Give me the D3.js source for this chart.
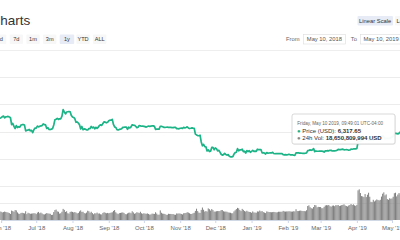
<!DOCTYPE html>
<html><head><meta charset="utf-8">
<script src="https://cdn.jsdelivr.net/npm/d3@7"></script>
<style>html,body{margin:0;padding:0;background:#fff;overflow:hidden}svg{display:block}</style>
</head><body>
<svg id="c" width="400" height="240"></svg>
<script>
// ---------- data ----------
const startDate = Date.UTC(2018, 4, 25); // May 25 2018, one value per day
const prices = [
7480,7355,7368,7135,7472,7406,7494,
7541,7643,7720,7514,7633,7653,7678,7624,7531,6786,6906,6582,6349,6675,6456,6550,6500,6734,6769,6776,6729,6083,6162,6173,6249,6093,6157,5903,6218,6404,
6385,6614,6530,6597,6639,6673,6857,6773,6742,6359,6442,6246,6238,6276,6359,6742,7321,7370,7467,7354,7419,7419,7718,8424,8181,7951,8165,8193,8218,8180,7780,
7625,7567,7434,7033,7068,6951,6754,6306,6571,6215,6308,6276,6204,6186,6348,6334,6580,6423,6509,6309,6486,6377,6487,6690,6748,6690,6898,7093,7047,6978,7037,
7193,7273,7260,7361,6792,6529,6467,6225,6186,6249,6276,6329,6488,6486,6518,6502,6269,6491,6412,6519,6763,6721,6710,6595,6446,6495,6676,6644,6601,6625,
6589,6556,6503,6576,6622,6588,6603,6652,6642,6585,6256,6274,6285,6290,6596,6596,6544,6476,6465,6489,6501,6481,6487,6475,6456,6446,6480,6474,6337,6331,6318,
6377,6388,6361,6484,6417,6467,6530,6415,6346,6379,6421,6394,6376,5738,5648,5575,5554,5624,4871,4452,4602,4365,4347,3880,4010,3822,3864,4274,4275,4017,
4214,4139,3894,3956,3753,3521,3419,3476,3614,3503,3424,3486,3313,3243,3236,3252,3545,3696,3745,4134,3896,4014,3998,4078,3815,3857,3654,3923,3821,3913,3742,
3843,3943,3836,3857,3845,4076,4025,4030,4035,3678,3687,3661,3552,3706,3630,3655,3678,3657,3729,3601,3576,3604,3585,3600,3600,3602,3583,3470,3448,3486,3457,
3487,3521,3464,3459,3466,3413,3399,3666,3671,3690,3648,3653,3632,3616,3620,3630,3673,3915,3947,3999,3954,4005,4142,3810,3882,3854,3851,3855,
3859,3864,3847,3762,3896,3903,3912,3901,3963,3948,3883,3907,3896,3904,3960,4049,4026,4033,4059,4083,4009,4017,4025,4018,3963,3985,4088,4070,4103,4107,4105,
4158,4879,4973,4922,5036,5059,5198,5289,5204,5325,5064,5089,5096,5167,5067,5236,5251,5298,5303,5337,5314,5399,5572,5464,5210,5279,5268,5285,5248,5350,
5402,5505,5768,5831,5795,5747,5830,5951,6174,6317
];
const volumesB = [
5.0,4.8,3.9,5.1,6.0,5.3,5.1,
4.9,4.5,4.7,5.0,4.8,4.6,4.4,4.1,3.6,5.6,5.3,4.9,5.9,5.7,4.5,3.8,3.6,4.2,4.3,4.1,3.9,5.2,3.5,4.3,4.0,3.7,3.8,3.9,4.0,4.0,
3.5,4.4,4.8,4.0,4.4,3.9,3.4,3.3,3.7,4.1,3.9,3.8,3.7,3.0,3.1,4.7,5.9,6.2,5.1,4.9,3.8,4.0,4.9,6.6,6.0,4.8,5.2,4.0,3.8,4.8,5.0,
4.8,4.5,4.7,4.4,3.9,4.2,5.1,5.7,4.8,4.9,4.1,3.9,4.4,5.5,5.2,4.3,4.9,4.1,3.4,4.0,3.9,4.4,3.8,3.9,3.4,3.3,4.2,4.6,4.3,4.0,4.2,
4.0,4.2,4.4,4.6,5.4,5.9,4.6,3.9,3.5,4.1,4.2,4.4,4.5,4.2,3.5,3.4,3.9,4.3,4.4,4.0,5.2,4.5,3.7,4.0,4.6,4.4,4.1,4.9,4.0,3.7,
4.0,3.8,3.7,3.9,3.6,3.2,3.3,3.8,3.7,3.6,4.6,3.8,3.1,3.2,5.7,4.3,3.8,3.7,3.6,3.1,3.1,3.7,3.6,3.6,3.5,3.5,3.2,3.1,3.9,3.8,3.9,
3.8,3.6,3.3,4.0,4.1,4.2,4.6,4.4,4.0,3.6,3.6,4.0,4.3,5.4,6.7,5.3,4.4,4.2,6.0,7.4,6.1,5.0,5.3,5.0,6.9,6.4,5.6,6.5,5.9,5.0,
5.0,5.2,5.3,5.3,5.3,5.9,5.9,5.2,5.0,5.0,4.9,4.5,4.4,4.3,4.0,4.0,5.1,5.8,6.5,7.2,6.9,5.9,5.3,6.6,6.0,5.3,5.0,5.5,5.0,4.8,4.7,
4.3,5.1,4.5,4.4,4.3,5.1,5.0,5.6,5.1,5.3,4.7,4.4,4.1,5.1,4.9,4.7,4.7,4.6,4.7,4.8,4.7,4.5,4.6,4.9,4.9,4.9,4.9,5.4,5.1,5.0,5.1,
5.1,5.2,5.1,5.0,5.0,5.2,5.1,6.4,5.3,5.3,5.5,5.6,5.4,5.3,5.3,5.2,5.8,8.3,8.7,7.6,7.0,6.8,7.7,8.9,8.7,7.5,7.8,7.7,
7.7,7.0,7.0,7.8,8.6,8.8,8.7,8.9,8.2,7.9,8.5,8.6,8.2,8.8,8.7,8.9,8.3,8.5,8.8,9.0,9.3,8.6,8.3,8.0,8.6,8.9,9.5,8.9,9.3,8.7,8.4,
9.0,17.6,18.2,16.0,14.2,14.0,13.6,15.4,13.6,15.0,16.2,13.8,10.8,10.6,12.0,11.0,11.6,12.2,11.9,11.6,12.0,13.9,15.6,16.4,14.6,15.2,12.4,12.0,12.9,12.6,
12.8,13.8,15.9,16.2,14.0,15.1,16.0,15.2,16.8,18.65
];
const rangeButtons = ["1d","7d","1m","3m","1y","YTD","ALL"];
const selectedRange = "1y";
const priceTicks = [0,3000,6000,9000,12000,15000];
const volumeTicks = [0,10,20];
const tooltipDate = "Friday, May 10 2019, 09:49:01 UTC-04:00";
const tooltipPrice = "6,317.65";
const tooltipVol = "18,650,809,994 USD";

// ---------- drawing ----------
const svg = d3.select("#c");
const FONT = "'Liberation Sans', Arial, sans-serif";
const dayMs = 86400000;
const dates = prices.map((_, i) => new Date(startDate + i * dayMs));

const x = d3.scaleUtc()
  .domain([new Date(Date.UTC(2018,5,1)), new Date(Date.UTC(2019,4,1))])
  .range([1.1, 392]);
const yP = d3.scaleLinear().domain([0, 15000]).range([186.3, 49.8]);
const yV = d3.scaleLinear().domain([0, 20]).range([220, 186.3]);

// title
svg.append("text").attr("x", -9.5).attr("y", 24.5)
  .attr("font-family", FONT).attr("font-size", 13.5).attr("fill", "#333")
  .text("Charts");

// range buttons
const bw = 13.3, bp = 16.67, bx0 = -6.97;
const btn = svg.append("g").selectAll("g").data(rangeButtons).join("g")
  .attr("transform", (d, i) => `translate(${bx0 + i * bp},34.5)`);
btn.append("rect").attr("width", d => d === "1y" ? 14.5 : bw).attr("height", 9.5).attr("rx", 1)
  .attr("fill", d => d === selectedRange ? "#e6ebf5" : "#f7f7f7");
btn.append("text").attr("x", d => (d === "1y" ? 14.5 : bw) / 2).attr("y", 6.7).attr("text-anchor", "middle")
  .attr("font-family", FONT).attr("font-size", 5.6).attr("fill", "#333").text(d => d);

// scale buttons
svg.append("rect").attr("x", 357.5).attr("y", 16).attr("width", 35.5).attr("height", 9.5).attr("rx", 1).attr("fill", "#e6ebf5");
svg.append("text").attr("x", 375.2).attr("y", 22.9).attr("text-anchor", "middle")
  .attr("font-family", FONT).attr("font-size", 5.8).attr("fill", "#333").text("Linear Scale");
svg.append("rect").attr("x", 395).attr("y", 16).attr("width", 30).attr("height", 9.5).attr("rx", 1).attr("fill", "#f7f7f7");
svg.append("text").attr("x", 396.5).attr("y", 22.9)
  .attr("font-family", FONT).attr("font-size", 5.8).attr("fill", "#333").text("Log Scale");

// date inputs
svg.append("text").attr("x", 286).attr("y", 41).attr("font-family", FONT).attr("font-size", 5.8).attr("fill", "#666").text("From");
svg.append("rect").attr("x", 303.5).attr("y", 34.5).attr("width", 42).attr("height", 9.5).attr("fill", "#fff").attr("stroke", "#ddd").attr("stroke-width", 0.6);
svg.append("text").attr("x", 306.8).attr("y", 41).attr("font-family", FONT).attr("font-size", 5.8).attr("fill", "#555").text("May 10, 2018");
svg.append("text").attr("x", 350.8).attr("y", 41).attr("font-family", FONT).attr("font-size", 5.8).attr("fill", "#666").text("To");
svg.append("rect").attr("x", 360.5).attr("y", 34.5).attr("width", 42).attr("height", 9.5).attr("fill", "#fff").attr("stroke", "#ddd").attr("stroke-width", 0.6);
svg.append("text").attr("x", 363.5).attr("y", 41).attr("font-family", FONT).attr("font-size", 5.8).attr("fill", "#555").text("May 10, 2019");

// gridlines
svg.append("g").selectAll("line").data(priceTicks).join("line")
  .attr("x1", 0).attr("x2", 400).attr("y1", d => Math.round(yP(d)) + 0.5).attr("y2", d => Math.round(yP(d)) + 0.5)
  .attr("stroke", "#ececec").attr("stroke-width", 1);
svg.append("g").selectAll("line").data(volumeTicks.slice(1, 2)).join("line")
  .attr("x1", 0).attr("x2", 400).attr("y1", d => Math.round(yV(d)) + 0.5).attr("y2", d => Math.round(yV(d)) + 0.5)
  .attr("stroke", "#ececec").attr("stroke-width", 1);

// volume bars
svg.append("g").selectAll("rect").data(volumesB).join("rect")
  .attr("x", (d, i) => x(dates[i]) - 0.5)
  .attr("width", 1)
  .attr("y", d => yV(d))
  .attr("height", d => yV(0) - yV(d))
  .attr("fill", "#808080");

// x axis
const xAxis = d3.axisBottom(x)
  .ticks(d3.utcMonth.every(1))
  .tickFormat(d3.utcFormat("%b '%y"))
  .tickSize(3).tickPadding(3);
const gx = svg.append("g").attr("transform", "translate(0,220)").call(xAxis);
gx.select(".domain").attr("stroke", "#d0d8e6");
gx.selectAll(".tick line").attr("stroke", "#ccd6eb");
gx.selectAll(".tick text").attr("font-family", FONT).attr("font-size", 6).attr("fill", "#666");

// price line
const line = d3.line().x((d, i) => x(dates[i])).y(d => yP(d)).curve(d3.curveLinear);
svg.append("path").datum(prices).attr("d", line)
  .attr("fill", "none").attr("stroke", "#1cb386").attr("stroke-width", 1.7).attr("stroke-linejoin", "round");

// tooltip
const tt = svg.append("g").attr("transform", "translate(292,114)");
tt.append("rect").attr("x", 0.8).attr("y", 0.8).attr("width", 103).attr("height", 30).attr("rx", 2)
  .attr("fill", "#000").attr("opacity", 0.06);
tt.append("rect").attr("width", 103).attr("height", 30).attr("rx", 2)
  .attr("fill", "rgba(255,255,255,0.96)").attr("stroke", "#c8c8c8").attr("stroke-width", 0.7);
tt.append("text").attr("x", 5.3).attr("y", 11).attr("font-family", FONT).attr("font-size", 4.6).attr("fill", "#666").text(tooltipDate);
const r1 = tt.append("text").attr("x", 5).attr("y", 19).attr("font-family", FONT).attr("font-size", 6).attr("fill", "#333");
r1.append("tspan").attr("fill", "#1cb386").text("● ");
r1.append("tspan").text("Price (USD): ");
r1.append("tspan").attr("font-weight", "bold").text(tooltipPrice);
const r2 = tt.append("text").attr("x", 5).attr("y", 25.5).attr("font-family", FONT).attr("font-size", 6).attr("fill", "#333");
r2.append("tspan").attr("fill", "#888").text("● ");
r2.append("tspan").text("24h Vol: ");
r2.append("tspan").attr("font-weight", "bold").text(tooltipVol);

// separator under controls
svg.append("line").attr("x1", 0).attr("x2", 400).attr("y1", 50.5).attr("y2", 50.5).attr("stroke", "#eee");
</script>
</body></html>
